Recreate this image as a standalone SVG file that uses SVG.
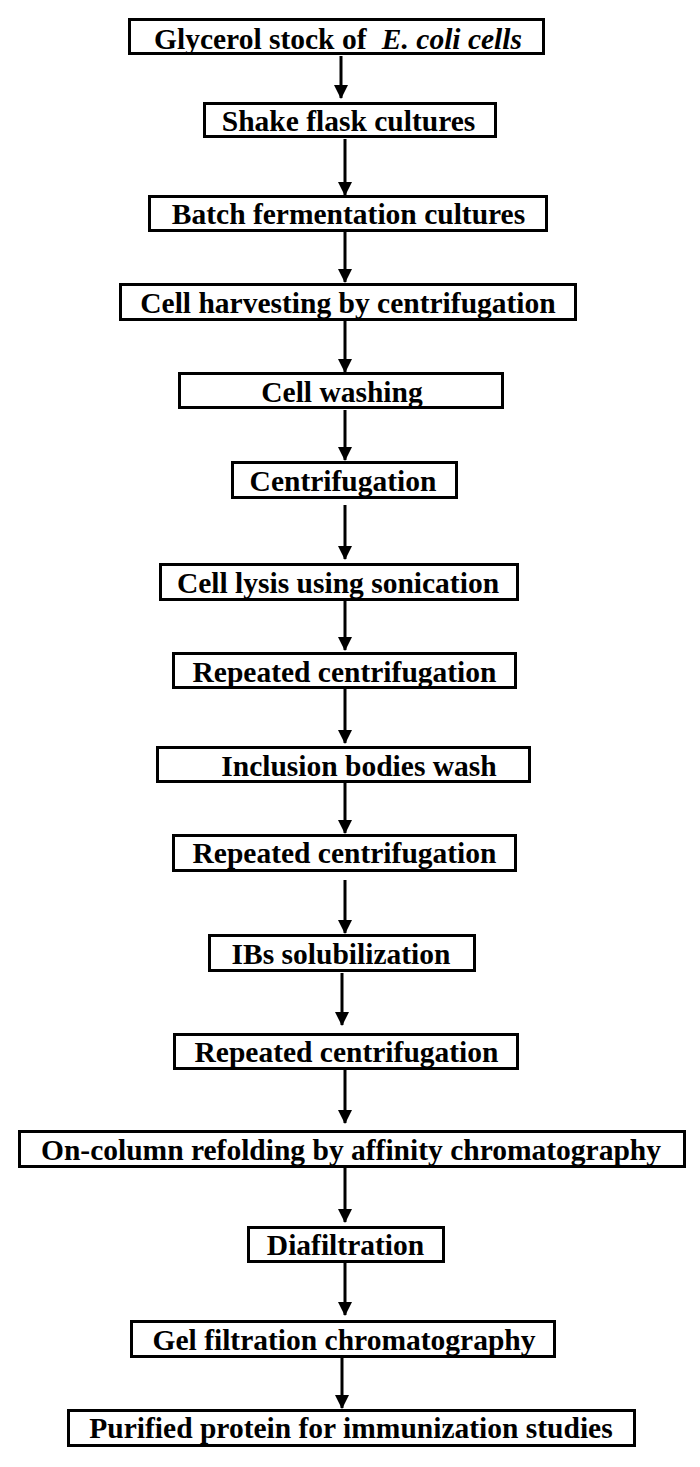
<svg xmlns="http://www.w3.org/2000/svg" width="700" height="1467" viewBox="0 0 700 1467">
<style>
.box{fill:#fff;stroke:#000;stroke-width:3}
.lbl{font-family:"Liberation Serif","Times New Roman",serif;font-weight:bold;font-size:29.5px;fill:#000;text-anchor:middle}
.con{stroke:#000;stroke-width:3;fill:none;marker-end:url(#ah)}
</style>
<defs>
<marker id="ah" markerUnits="userSpaceOnUse" markerWidth="14" markerHeight="14" viewBox="0 0 14 14" refX="13" refY="7" orient="auto">
<path d="M0,0 L14,7 L0,14 Z" fill="#000"/>
</marker>
</defs>
<rect width="700" height="1467" fill="#fff"/>
<g id="connectors">
<line class="con" x1="341" y1="56" x2="341" y2="98"/>
<line class="con" x1="345" y1="139" x2="345" y2="195"/>
<line class="con" x1="345" y1="232" x2="345" y2="282"/>
<line class="con" x1="345" y1="321" x2="345" y2="372"/>
<line class="con" x1="345" y1="410" x2="345" y2="460"/>
<line class="con" x1="345" y1="505" x2="345" y2="559"/>
<line class="con" x1="345" y1="601" x2="345" y2="650"/>
<line class="con" x1="345" y1="689" x2="345" y2="743"/>
<line class="con" x1="345" y1="783" x2="345" y2="833"/>
<line class="con" x1="345" y1="880" x2="345" y2="933"/>
<line class="con" x1="342" y1="973" x2="342" y2="1025"/>
<line class="con" x1="345" y1="1070" x2="345" y2="1123"/>
<line class="con" x1="345" y1="1168" x2="345" y2="1222"/>
<line class="con" x1="345" y1="1263" x2="345" y2="1315"/>
<line class="con" x1="342" y1="1358" x2="342" y2="1408"/>
</g>
<g id="n1"><rect class="box" x="129.5" y="19.5" width="414" height="34"/><text class="lbl" x="338" y="49">Glycerol stock of <tspan dx="8" font-style="italic">E. coli cells</tspan></text></g>
<g id="n2"><rect class="box" x="204.5" y="103.5" width="291" height="33"/><text class="lbl" x="348.5" y="131">Shake flask cultures</text></g>
<g id="n3"><rect class="box" x="149.5" y="196.5" width="397" height="34"/><text class="lbl" x="348.5" y="224">Batch fermentation cultures</text></g>
<g id="n4"><rect class="box" x="120.5" y="284.5" width="455" height="35"/><text class="lbl" x="348" y="313">Cell harvesting by centrifugation</text></g>
<g id="n5"><rect class="box" x="179.5" y="373.5" width="323" height="34"/><text class="lbl" x="342" y="402">Cell washing</text></g>
<g id="n6"><rect class="box" x="232.5" y="462.5" width="224" height="35"/><text class="lbl" x="343" y="491">Centrifugation</text></g>
<g id="n7"><rect class="box" x="160.5" y="564.5" width="357" height="35"/><text class="lbl" x="338" y="593">Cell lysis using sonication</text></g>
<g id="n8"><rect class="box" x="173.5" y="653.5" width="342" height="34"/><text class="lbl" x="344.5" y="682">Repeated centrifugation</text></g>
<g id="n9"><rect class="box" x="157.5" y="747.5" width="372" height="34"/><text class="lbl" x="359" y="776">Inclusion bodies wash</text></g>
<g id="n10"><rect class="box" x="173.5" y="835.5" width="342" height="35"/><text class="lbl" x="344.5" y="863">Repeated centrifugation</text></g>
<g id="n11"><rect class="box" x="209.5" y="935.5" width="265" height="35"/><text class="lbl" x="341" y="964">IBs solubilization</text></g>
<g id="n12"><rect class="box" x="174.5" y="1034.5" width="343" height="34"/><text class="lbl" x="346.5" y="1062">Repeated centrifugation</text></g>
<g id="n13"><rect class="box" x="19.5" y="1131.5" width="665" height="35"/><text class="lbl" x="351" y="1160">On-column refolding by affinity chromatography</text></g>
<g id="n14"><rect class="box" x="248.5" y="1227.5" width="195" height="34"/><text class="lbl" x="345.5" y="1255">Diafiltration</text></g>
<g id="n15"><rect class="box" x="131.5" y="1321.5" width="423" height="35"/><text class="lbl" x="344" y="1350">Gel filtration chromatography</text></g>
<g id="n16"><rect class="box" x="68.5" y="1410.5" width="566" height="35"/><text class="lbl" x="351" y="1438">Purified protein for immunization studies</text></g>
</svg>
